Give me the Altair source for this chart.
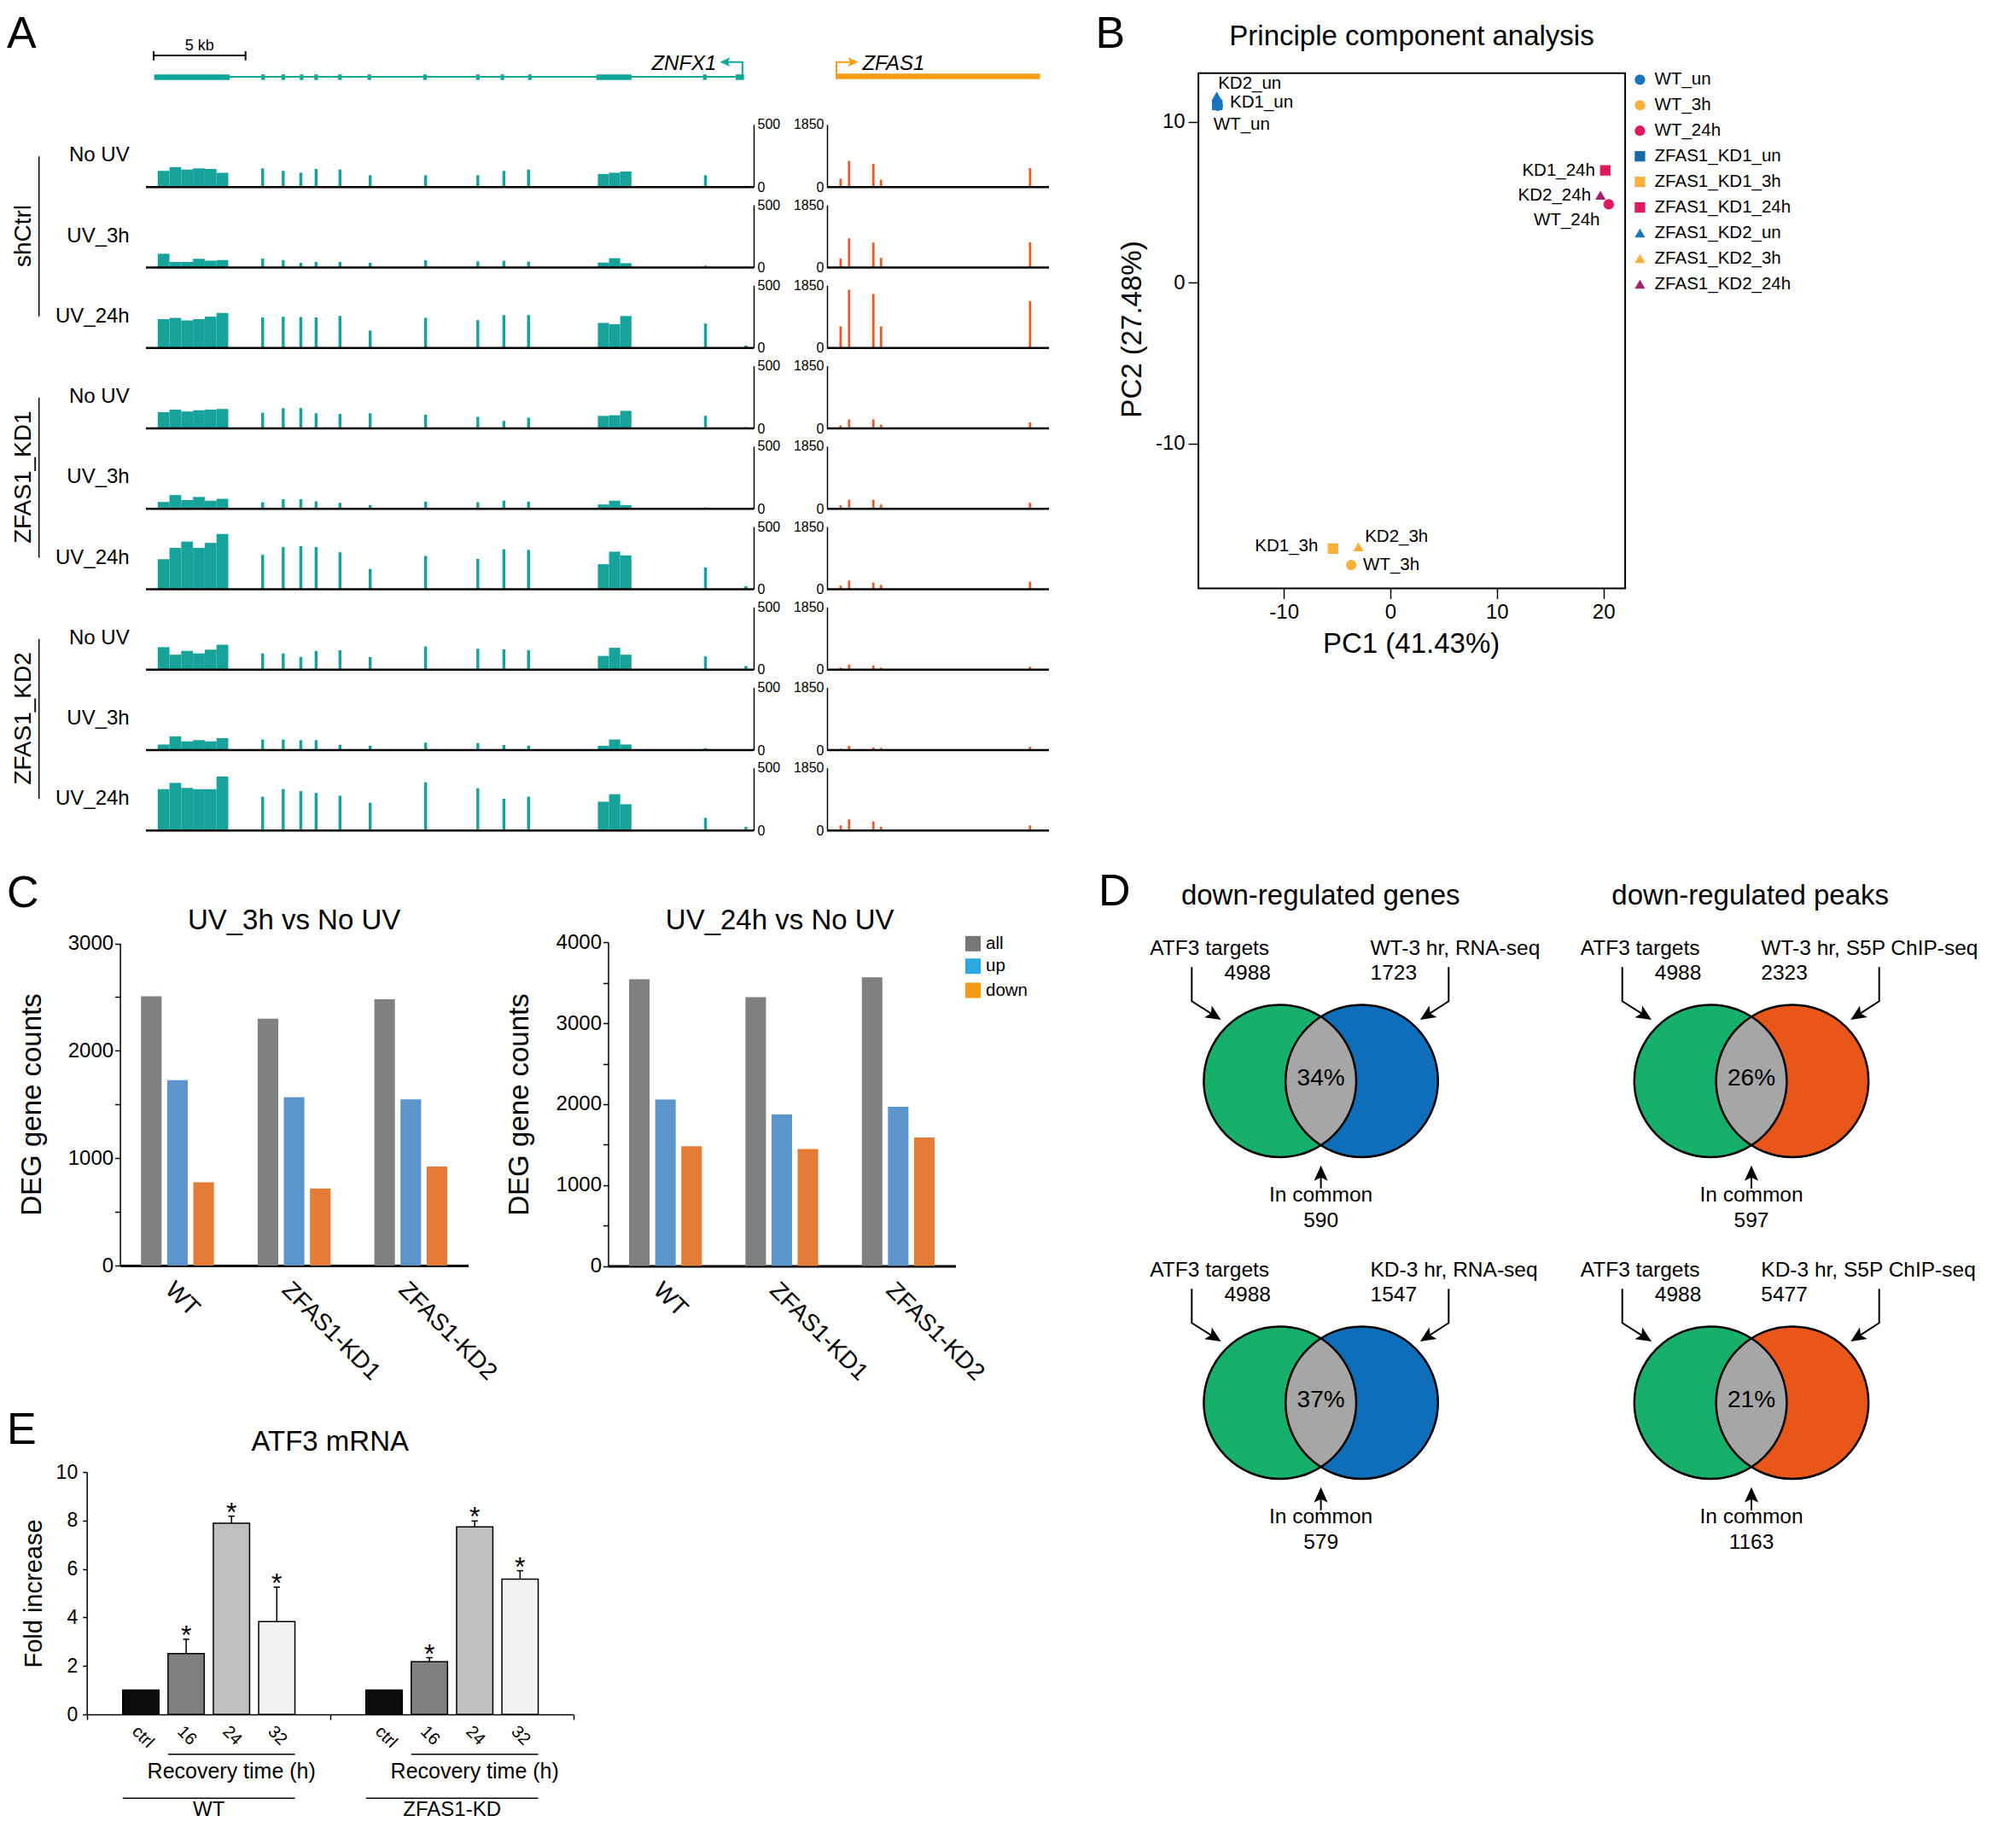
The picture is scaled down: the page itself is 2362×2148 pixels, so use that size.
import math
import altair as alt
import pandas as pd

W, H = 2346, 2132
M = 8
FONT = "Liberation Sans"
BLACK = "#000000"


def P(v):
    return round(v - M, 2)


def lin(domain, rng):
    return alt.Scale(domain=list(domain), range=list(rng), nice=False, zero=False)


# ======================= DATA =======================
# ---- A: coverage tracks ----
track_labels = ["No UV", "UV_3h", "UV_24h", "No UV", "UV_3h", "UV_24h", "No UV", "UV_3h", "UV_24h"]
track_groups = ["shCtrl", "ZFAS1_KD1", "ZFAS1_KD2"]
znfx1_axis_max = 500
zfas1_axis_max = 1850
znfx1_span_kb = [0.0, 33.07]
zfas1_span_kb = [0.0, 12.08]
scale_bar_kb = [0.42, 5.42]

znfx1_block1_edges = [0.64, 1.28, 1.92, 2.56, 3.20, 3.84, 4.48]
znfx1_block2_edges = [24.59, 25.20, 25.81, 26.42]
znfx1_exon_centers = [6.35, 7.47, 8.43, 9.26, 10.56, 12.20, 15.22, 18.06, 19.48, 20.82, 30.45, 32.65]

znfx1_block1_cov = [
    [130, 160, 140, 150, 145, 115],
    [110, 45, 45, 70, 55, 60],
    [230, 240, 220, 230, 250, 280],
    [130, 150, 135, 145, 150, 155],
    [55, 110, 70, 95, 65, 80],
    [240, 330, 380, 330, 370, 440],
    [180, 120, 150, 130, 160, 200],
    [45, 110, 70, 80, 70, 95],
    [330, 380, 340, 330, 330, 430],
]
znfx1_exon_cov = [
    [150, 130, 115, 145, 140, 95, 95, 95, 130, 140, 95, 10],
    [72, 60, 38, 45, 45, 38, 58, 49, 54, 47, 15, 5],
    [244, 249, 247, 244, 256, 139, 240, 222, 262, 262, 195, 20],
    [126, 162, 162, 121, 116, 121, 109, 92, 60, 85, 101, 10],
    [53, 77, 77, 60, 48, 31, 58, 53, 65, 58, 12, 5],
    [275, 336, 343, 336, 295, 162, 266, 242, 319, 314, 174, 25],
    [130, 130, 101, 150, 155, 101, 186, 167, 162, 155, 106, 30],
    [85, 85, 80, 80, 43, 36, 60, 56, 41, 36, 15, 5],
    [270, 331, 314, 300, 278, 222, 384, 338, 254, 270, 101, 30],
]
znfx1_block2_cov = [
    [105, 115, 125],
    [40, 75, 35],
    [200, 190, 255],
    [100, 105, 140],
    [35, 65, 30],
    [200, 300, 270],
    [110, 175, 120],
    [35, 85, 45],
    [230, 290, 210],
]
zfas1_peak_centers = [0.74, 1.20, 2.52, 2.94, 11.05]
zfas1_cov = [
    [249, 771, 689, 224, 564],
    [266, 863, 738, 282, 747],
    [639, 1718, 1593, 639, 1386],
    [89, 268, 268, 107, 179],
    [107, 268, 268, 125, 179],
    [107, 259, 197, 125, 223],
    [62, 152, 125, 62, 89],
    [45, 125, 80, 62, 98],
    [152, 330, 268, 107, 152],
]

# gene models
znfx1_gene_blocks = [[0.45, 4.56], [24.51, 26.42], [32.09, 32.54]]
znfx1_gene_exons = [6.38, 7.47, 8.47, 9.26, 10.56, 12.16, 15.18, 18.06, 19.40, 20.89, 30.41]
znfx1_gene_span = [0.45, 32.54]
znfx1_tss_path = [32.46, 32.46, 31.60]
znfx1_tss_tip = 31.23
zfas1_gene_span = [0.47, 11.59]
zfas1_tss_path = [0.51, 0.51, 1.30]
zfas1_tss_tip = 1.70

# ---- B: PCA ----
pca_samples = ["WT_un", "WT_3h", "WT_24h", "ZFAS1_KD1_un", "ZFAS1_KD1_3h", "ZFAS1_KD1_24h",
               "ZFAS1_KD2_un", "ZFAS1_KD2_3h", "ZFAS1_KD2_24h"]
pca_pc1 = [-16.2, -3.67, 20.5, -16.25, -5.39, 20.17, -16.3, -3.0, 19.72]
pca_pc2 = [11.0, -17.56, 4.87, 11.05, -16.54, 6.98, 11.6, -16.43, 5.44]
pca_colors = ["#1b75bc", "#fbb03b", "#e0195e", "#1a6ab0", "#fbb03b", "#e0195e", "#1b75bc", "#fbb03b", "#a3206a"]
pca_shapes = ["circle", "circle", "circle", "square", "square", "square", "triangle-up", "triangle-up", "triangle-up"]
pca_z = [2, 2, 2, 1, 1, 1, 3, 3, 3]
pca_labels = ["WT_un", "WT_3h", "WT_24h", "KD1_un", "KD1_3h", "KD1_24h", "KD2_un", "KD2_3h", "KD2_24h"]
pca_lab_x = [-16.6, -2.56, 19.67, -15.06, -6.78, 19.22, -16.17, -2.39, 18.83]
pca_lab_y = [9.85, -17.56, 3.87, 11.2, -16.4, 6.98, 12.4, -15.8, 5.44]
pca_lab_align = ["left", "left", "right", "left", "right", "right", "left", "left", "right"]
pca_x_domain = [-18.02, 22.04]
pca_y_domain = [-19.01, 13.03]

# ---- C: DEG counts ----
deg_groups = ["WT", "ZFAS1-KD1", "ZFAS1-KD2"]
deg_series = ["all", "up", "down"]
deg_3h = {"all": [2507, 2299, 2480], "up": [1726, 1568, 1548], "down": [774, 717, 922]}
deg_24h = {"all": [3545, 3322, 3568], "up": [2056, 1873, 1966], "down": [1480, 1445, 1588]}
deg_bar_colors = ["#808080", "#5b95cc", "#e57c36"]
deg_legend_colors = ["#767676", "#29a9e0", "#f39a12"]

# ---- D: Venn ----
venn_titles = ["down-regulated genes", "down-regulated peaks"]
venn_set_a = ["ATF3 targets", "ATF3 targets", "ATF3 targets", "ATF3 targets"]
venn_a_n = [4988, 4988, 4988, 4988]
venn_set_b = ["WT-3 hr, RNA-seq", "WT-3 hr, S5P ChIP-seq", "KD-3 hr, RNA-seq", "KD-3 hr, S5P ChIP-seq"]
venn_b_n = [1723, 2323, 1547, 5477]
venn_common = [590, 597, 579, 1163]
venn_pct = ["34%", "26%", "37%", "21%"]
venn_col = [0, 1, 0, 1]
venn_row = [0, 0, 1, 1]
venn_a_color = "#17b06a"
venn_b_color = ["#0f6eb9", "#e85719", "#0f6eb9", "#e85719"]
venn_lens_color = "#a6a6a6"

# ---- E: ATF3 mRNA ----
atf3_groups = ["WT", "ZFAS1-KD"]
atf3_times = ["ctrl", "16", "24", "32"]
atf3_wt = [1.0, 2.51, 7.89, 3.83]
atf3_wt_sd = [0.0, 0.59, 0.29, 1.42]
atf3_kd = [1.0, 2.17, 7.74, 5.58]
atf3_kd_sd = [0.0, 0.17, 0.24, 0.35]
atf3_fill = ["#0d0a0a", "#808080", "#bfbfbf", "#f2f2f2"]

# ======================= BUILD =======================
layers = []
TXT = []  # x, y, text, size, angle, align, baseline, style

# ---------------- Panel A ----------------
ROW0, PITCH, TH = 219.3, 94.25, 73.5
ZN_X = [P(171.0), P(883.0)]
ZF_X = [P(969.0), P(1229.0)]
TEAL = "#17a39c"
TEAL_G = "#0fa69a"
RED_COV = "#ea5a24"
ORANGE_G = "#f59d12"

track_axis = dict(ticks=False, tickSize=0, domainWidth=1.5, domainColor=BLACK, labelFontSize=16,
                  labelPadding=4, labelFlush=False, labelColor=BLACK, grid=False, labelFont=FONT, format="d")

for i in range(9):
    b = P(ROW0 + i * PITCH)
    rows = []
    e = znfx1_block1_edges
    for k, v in enumerate(znfx1_block1_cov[i]):
        rows.append((e[k], e[k + 1], v))
    for c, v in zip(znfx1_exon_centers, znfx1_exon_cov[i]):
        rows.append((c - 0.08, c + 0.08, v))
    e = znfx1_block2_edges
    for k, v in enumerate(znfx1_block2_cov[i]):
        rows.append((e[k], e[k + 1], v))
    zn = pd.DataFrame(rows, columns=["s", "e", "v"])
    layers.append(alt.Chart(zn).mark_rect(color=TEAL).encode(
        x=alt.X("s:Q", scale=lin(znfx1_span_kb, ZN_X), axis=None),
        x2="e:Q",
        y=alt.Y("v:Q", title=None, scale=lin([0, znfx1_axis_max], [b, b - TH]),
                axis=alt.Axis(orient="right", offset=ZN_X[1] - W, values=[0, znfx1_axis_max], **track_axis)),
        y2=alt.datum(0)))
    layers.append(alt.Chart(pd.DataFrame({"s": [znfx1_span_kb[0]], "e": [znfx1_span_kb[1]]}))
                  .mark_rule(color=BLACK, strokeWidth=2.5).encode(
        x=alt.X("s:Q", scale=lin(znfx1_span_kb, ZN_X), axis=None), x2="e:Q", y=alt.value(b)))

    zf = pd.DataFrame({"s": [c - 0.065 for c in zfas1_peak_centers],
                       "e": [c + 0.065 for c in zfas1_peak_centers],
                       "v": zfas1_cov[i]})
    layers.append(alt.Chart(zf).mark_rect(color=RED_COV).encode(
        x=alt.X("s:Q", scale=lin(zfas1_span_kb, ZF_X), axis=None),
        x2="e:Q",
        y=alt.Y("v:Q", title=None, scale=lin([0, zfas1_axis_max], [b, b - TH]),
                axis=alt.Axis(orient="left", offset=-ZF_X[0], values=[0, zfas1_axis_max], **track_axis)),
        y2=alt.datum(0)))
    layers.append(alt.Chart(pd.DataFrame({"s": [zfas1_span_kb[0]], "e": [zfas1_span_kb[1]]}))
                  .mark_rule(color=BLACK, strokeWidth=2.5).encode(
        x=alt.X("s:Q", scale=lin(zfas1_span_kb, ZF_X), axis=None), x2="e:Q", y=alt.value(b)))

    TXT.append((P(151.7), P(ROW0 + i * PITCH - 37), track_labels[i], 24, 0, "right", "middle", "normal"))

# group labels + brackets
grp_rows = []
for g, name in enumerate(track_groups):
    y_top = P(ROW0 + (3 * g) * PITCH - 36)
    y_bot = P(ROW0 + (3 * g + 2) * PITCH - 37)
    grp_rows.append({"x": P(45.7), "y1": y_top, "y2": y_bot})
    TXT.append((P(28.1), P(ROW0 + (3 * g + 1) * PITCH - 37), name, 28, 270, "center", "middle", "normal"))
layers.append(alt.Chart(pd.DataFrame(grp_rows)).mark_rule(color=BLACK, strokeWidth=1.5).encode(
    x=alt.X("x:Q", scale=None), y=alt.Y("y1:Q", scale=None), y2="y2:Q"))

# gene model ZNFX1
layers.append(alt.Chart(pd.DataFrame({"s": [znfx1_gene_span[0]], "e": [znfx1_gene_span[1]]}))
              .mark_rule(color=TEAL_G, strokeWidth=2).encode(
    x=alt.X("s:Q", scale=lin(znfx1_span_kb, ZN_X), axis=None), x2="e:Q", y=alt.value(P(90))))
gm = [(s, e) for s, e in znfx1_gene_blocks] + [(c - 0.1, c + 0.1) for c in znfx1_gene_exons]
layers.append(alt.Chart(pd.DataFrame(gm, columns=["s", "e"])).mark_rect(color=TEAL_G).encode(
    x=alt.X("s:Q", scale=lin(znfx1_span_kb, ZN_X), axis=None), x2="e:Q",
    y=alt.value(P(87.2)), y2=alt.value(P(93.7))))
layers.append(alt.Chart(pd.DataFrame({"kb": znfx1_tss_path, "py": [P(88), P(72.7), P(72.7)], "k": [0, 1, 2]}))
              .mark_line(color=TEAL_G, strokeWidth=2).encode(
    x=alt.X("kb:Q", scale=lin(znfx1_span_kb, ZN_X), axis=None), y=alt.Y("py:Q", scale=None), order="k:Q"))
ARROW = "M0,0L0.9,2L0,1.55L-0.9,2Z"
layers.append(alt.Chart(pd.DataFrame({"kb": [znfx1_tss_tip]}))
              .mark_point(shape=ARROW, filled=True, size=144, opacity=1, color=TEAL_G, angle=270).encode(
    x=alt.X("kb:Q", scale=lin(znfx1_span_kb, ZN_X), axis=None), y=alt.value(P(72.7))))

# gene model ZFAS1
layers.append(alt.Chart(pd.DataFrame({"s": [zfas1_gene_span[0]], "e": [zfas1_gene_span[1]]}))
              .mark_rect(color=ORANGE_G).encode(
    x=alt.X("s:Q", scale=lin(zfas1_span_kb, ZF_X), axis=None), x2="e:Q",
    y=alt.value(P(86.2)), y2=alt.value(P(92.8))))
layers.append(alt.Chart(pd.DataFrame({"kb": zfas1_tss_path, "py": [P(88), P(72.7), P(72.7)], "k": [0, 1, 2]}))
              .mark_line(color=ORANGE_G, strokeWidth=2).encode(
    x=alt.X("kb:Q", scale=lin(zfas1_span_kb, ZF_X), axis=None), y=alt.Y("py:Q", scale=None), order="k:Q"))
layers.append(alt.Chart(pd.DataFrame({"kb": [zfas1_tss_tip]}))
              .mark_point(shape=ARROW, filled=True, size=144, opacity=1, color=ORANGE_G, angle=90).encode(
    x=alt.X("kb:Q", scale=lin(zfas1_span_kb, ZF_X), axis=None), y=alt.value(P(72.7))))

# scale bar
layers.append(alt.Chart(pd.DataFrame({"s": [scale_bar_kb[0]], "e": [scale_bar_kb[1]]}))
              .mark_rule(color=BLACK, strokeWidth=2).encode(
    x=alt.X("s:Q", scale=lin(znfx1_span_kb, ZN_X), axis=None), x2="e:Q", y=alt.value(P(65))))
layers.append(alt.Chart(pd.DataFrame({"kb": scale_bar_kb}))
              .mark_rule(color=BLACK, strokeWidth=2).encode(
    x=alt.X("kb:Q", scale=lin(znfx1_span_kb, ZN_X), axis=None), y=alt.value(P(60)), y2=alt.value(P(70.7))))


def zn_px(kb):
    return ZN_X[0] + kb * (ZN_X[1] - ZN_X[0]) / (znfx1_span_kb[1] - znfx1_span_kb[0])


TXT.append((round(zn_px(sum(scale_bar_kb) / 2), 2), P(59.3), "5 kb", 18, 0, "center", "alphabetic", "normal"))
TXT.append((P(839.4), P(81.7), "ZNFX1", 24, 0, "right", "alphabetic", "italic"))
TXT.append((P(1010.4), P(81.7), "ZFAS1", 24, 0, "left", "alphabetic", "italic"))

# panel letters
TXT.append((0, 48, "A", 52, 0, "left", "alphabetic", "normal"))
TXT.append((P(1283.4), 48, "B", 52, 0, "left", "alphabetic", "normal"))
TXT.append((0, P(1063), "C", 52, 0, "left", "alphabetic", "normal"))
TXT.append((P(1286.9), P(1061), "D", 52, 0, "left", "alphabetic", "normal"))
TXT.append((0, P(1691.7), "E", 52, 0, "left", "alphabetic", "normal"))

# ---------------- Panel B ----------------
PX = [P(1404.1), P(1904.1)]
PY = [P(689.4), P(85.7)]
frame = pd.DataFrame({"x0": [pca_x_domain[0]], "x1": [pca_x_domain[1]],
                      "y0": [pca_y_domain[0]], "y1": [pca_y_domain[1]]})
pca_axis = dict(tickSize=12, tickWidth=1.5, domain=False, labelFontSize=24, labelPadding=4,
                labelFlush=False, grid=False, labelColor=BLACK, tickColor=BLACK, labelFont=FONT,
                labelExpr="'' + datum.value")
layers.append(alt.Chart(frame).mark_rect(fillOpacity=0, stroke=BLACK, strokeWidth=2).encode(
    x=alt.X("x0:Q", title=None, scale=lin(pca_x_domain, PX),
            axis=alt.Axis(orient="bottom", offset=PY[0] - H, values=[-10, 0, 10, 20], **pca_axis)),
    x2="x1:Q",
    y=alt.Y("y0:Q", title=None, scale=lin(pca_y_domain, PY),
            axis=alt.Axis(orient="left", offset=-PX[0], values=[-10, 0, 10], **pca_axis)),
    y2="y1:Q"))
pca_df = pd.DataFrame({"sample": pca_samples, "pc1": pca_pc1, "pc2": pca_pc2, "z": pca_z,
                       "label": pca_labels, "lx": pca_lab_x, "ly": pca_lab_y, "align": pca_lab_align})
pca_color = alt.Color("sample:N", scale=alt.Scale(domain=pca_samples, range=pca_colors), legend=None)
pca_shape = alt.Shape("sample:N", scale=alt.Scale(domain=pca_samples, range=pca_shapes), legend=None)
layers.append(alt.Chart(pca_df).mark_point(filled=True, size=150, opacity=1).encode(
    x=alt.X("pc1:Q", scale=lin(pca_x_domain, PX), axis=None),
    y=alt.Y("pc2:Q", scale=lin(pca_y_domain, PY), axis=None),
    color=pca_color, shape=pca_shape, order="z:Q"))
for al in ["left", "right"]:
    layers.append(alt.Chart(pca_df[pca_df["align"] == al]).mark_text(
        align=al, baseline="middle", font=FONT, fontSize=20.5, color=BLACK).encode(
        x=alt.X("lx:Q", scale=lin(pca_x_domain, PX), axis=None),
        y=alt.Y("ly:Q", scale=lin(pca_y_domain, PY), axis=None), text="label:N"))
# legend (manual)
LEG_Y0, LEG_DY = 93.3, 29.96
leg = pd.DataFrame({"sample": pca_samples, "x": [P(1921.4)] * 9,
                    "y": [P(LEG_Y0 + LEG_DY * k) for k in range(9)]})
layers.append(alt.Chart(leg).mark_point(filled=True, size=150, opacity=1).encode(
    x=alt.X("x:Q", scale=None), y=alt.Y("y:Q", scale=None),
    color=alt.Color("sample:N", scale=alt.Scale(domain=pca_samples, range=pca_colors), legend=None),
    shape=alt.Shape("sample:N", scale=alt.Scale(domain=pca_samples, range=pca_shapes), legend=None)))
for k, s in enumerate(pca_samples):
    TXT.append((P(1938.6), P(LEG_Y0 + LEG_DY * k), s, 20.5, 0, "left", "middle", "normal"))
TXT.append((P(1654), P(43.3), "Principle component analysis", 33, 0, "center", "middle", "normal"))
TXT.append((P(1653.6), P(755), "PC1 (41.43%)", 33, 0, "center", "middle", "normal"))
TXT.append((P(1326.5), P(386), "PC2 (27.48%)", 33, 270, "center", "middle", "normal"))

# ---------------- Panel C ----------------
c_panels = [
    ("UV_3h vs No UV", deg_3h, 3000, [P(140.6), P(548.6)], [P(1483), P(1105.5)], P(344.6), P(38)),
    ("UV_24h vs No UV", deg_24h, 4000, [P(712.5), P(1119.5)], [P(1483.5), P(1104.3)], P(913.7), P(609)),
]
for title, vals, ymax, xr, yr, tx, ytx in c_panels:
    rows = []
    for si, s in enumerate(deg_series):
        for gi, g in enumerate(deg_groups):
            rows.append({"group": g, "series": s, "value": vals[s][gi], "hex": deg_bar_colors[si]})
    layers.append(alt.Chart(pd.DataFrame(rows)).mark_bar().encode(
        x=alt.X("group:N", title=None,
                scale=alt.Scale(domain=deg_groups, range=xr, paddingInner=0.375, paddingOuter=0.18),
                axis=alt.Axis(orient="bottom", offset=yr[0] - H, labelAngle=45, labelAlign="left",
                              labelBaseline="top", labelFontSize=28, ticks=False, tickSize=0,
                              domainWidth=3, labelPadding=14, grid=False, labelFont=FONT, labelColor=BLACK)),
        xOffset=alt.XOffset("series:N", scale=alt.Scale(domain=deg_series, paddingInner=0.213, paddingOuter=0.0)),
        y=alt.Y("value:Q", title=None, scale=lin([0, ymax], yr),
                axis=alt.Axis(orient="left", offset=-xr[0], values=list(range(0, ymax + 1, 500)), format="d",
                              labelExpr="datum.value % 1000 === 0 ? datum.label : ''",
                              tickSize=6, tickWidth=1.5, domainWidth=1.5, labelFontSize=24,
                              labelPadding=2, grid=False, labelFont=FONT, labelColor=BLACK)),
        color=alt.Color("hex:N", scale=None)))
    TXT.append((tx, P(1078.9), title, 33, 0, "center", "middle", "normal"))
    TXT.append((ytx, P(1294.5), "DEG gene counts", 33, 270, "center", "middle", "normal"))
CLEG_Y = [1105.8, 1132.2, 1160.5]
cleg = pd.DataFrame({"series": deg_series, "hex": deg_legend_colors,
                     "x": [P(1140)] * 3, "y": [P(v) for v in CLEG_Y]})
layers.append(alt.Chart(cleg).mark_square(size=324, opacity=1).encode(
    x=alt.X("x:Q", scale=None), y=alt.Y("y:Q", scale=None), color=alt.Color("hex:N", scale=None)))
for s, yy in zip(deg_series, CLEG_Y):
    TXT.append((P(1155), P(yy), s, 20.5, 0, "left", "middle", "normal"))

# ---------------- Panel D ----------------
VX0, VDX, VY0, VDY = 1547.6, 504.4, 1266.7, 377.0
CR, CHALF = 89.3, 47.9
CSIZE = (2 * CR) ** 2
hh = round(math.sqrt(1 - (CHALF / CR) ** 2), 4)
LENS = f"M0,{-hh}A1,1,0,0,1,0,{hh}A1,1,0,0,1,0,{-hh}Z"
fills, lens, lines, heads = [], [], [], []
for k in range(4):
    cx = P(VX0 + VDX * venn_col[k])
    cy = P(VY0 + VDY * venn_row[k])
    fills.append({"x": cx - CHALF, "y": cy, "c": venn_a_color})
    fills.append({"x": cx + CHALF, "y": cy, "c": venn_b_color[k]})
    lens.append({"x": cx, "y": cy})
    arrows = [([(-151.3, -133.4), (-151.3, -93.4)], (-117, -71.7)),
              ([(149.7, -133.4), (149.7, -93.4)], (116.3, -71.7)),
              ([(0, 126)], (0, 99))]
    for a, (pts, tip) in enumerate(arrows):
        lx, ly = pts[-1]
        dx, dy = tip[0] - lx, tip[1] - ly
        n = math.hypot(dx, dy)
        ux, uy = dx / n, dy / n
        path = pts + [(tip[0] - 12 * ux, tip[1] - 12 * uy)]
        for j, (px_, py_) in enumerate(path):
            lines.append({"id": f"{k}-{a}", "j": j, "x": cx + px_, "y": cy + py_})
        ang = (math.degrees(math.atan2(ux, -uy)) + 360) % 360
        heads.append({"x": cx + tip[0], "y": cy + tip[1], "ang": round(ang, 1)})
    TXT.append((cx - 200.3, cy - 155, venn_set_a[k], 24.5, 0, "left", "middle", "normal"))
    TXT.append((cx - 58.7, cy - 125.9, str(venn_a_n[k]), 24.5, 0, "right", "middle", "normal"))
    bx = cx + (57.9 if venn_col[k] == 0 else 11.3)
    TXT.append((bx, cy - 155, venn_set_b[k], 24.5, 0, "left", "middle", "normal"))
    TXT.append((bx, cy - 125.9, str(venn_b_n[k]), 24.5, 0, "left", "middle", "normal"))
    TXT.append((cx, cy - 3, venn_pct[k], 28, 0, "center", "middle", "normal"))
    TXT.append((cx, cy + 134.5, "In common", 24.5, 0, "center", "middle", "normal"))
    TXT.append((cx, cy + 164.5, str(venn_common[k]), 24.5, 0, "center", "middle", "normal"))
for c, t in enumerate(venn_titles):
    TXT.append((P(1547.2 + 503.5 * c), P(1050.2), t, 33, 0, "center", "middle", "normal"))

fdf = pd.DataFrame(fills)
layers.append(alt.Chart(fdf).mark_point(shape="circle", filled=True, size=CSIZE, opacity=1, strokeWidth=0).encode(
    x=alt.X("x:Q", scale=None), y=alt.Y("y:Q", scale=None), color=alt.Color("c:N", scale=None)))
layers.append(alt.Chart(pd.DataFrame(lens)).mark_point(shape=LENS, filled=True, size=CSIZE, opacity=1,
                                                        color=venn_lens_color, strokeWidth=0).encode(
    x=alt.X("x:Q", scale=None), y=alt.Y("y:Q", scale=None)))
layers.append(alt.Chart(fdf).mark_point(shape="circle", filled=False, size=CSIZE, opacity=1,
                                        color=BLACK, strokeWidth=2.5).encode(
    x=alt.X("x:Q", scale=None), y=alt.Y("y:Q", scale=None)))
layers.append(alt.Chart(pd.DataFrame(lines)).mark_line(color=BLACK, strokeWidth=2).encode(
    x=alt.X("x:Q", scale=None), y=alt.Y("y:Q", scale=None), detail="id:N", order="j:Q"))
layers.append(alt.Chart(pd.DataFrame(heads)).mark_point(shape=ARROW, filled=True, size=324, opacity=1,
                                                         color=BLACK, strokeWidth=0).encode(
    x=alt.X("x:Q", scale=None), y=alt.Y("y:Q", scale=None), angle=alt.Angle("ang:Q", scale=None)))

# ---------------- Panel E ----------------
E_GROUP, E_FIRST, E_HALF = 5.367, 1.192, 0.40
EX = [P(101.7), P(671.7)]
EY = [P(2009), P(1725)]
e_xdom = [0, 2 * E_GROUP]
erows = []
for g, (vals, sds) in enumerate([(atf3_wt, atf3_wt_sd), (atf3_kd, atf3_kd_sd)]):
    for t in range(4):
        c = g * E_GROUP + E_FIRST + t
        erows.append({"grp": atf3_groups[g], "time": atf3_times[t], "c": c, "x0": c - E_HALF, "x1": c + E_HALF,
                      "val": vals[t], "top": vals[t] + sds[t], "cl": c - 0.07, "cr": c + 0.07,
                      "fill": atf3_fill[t], "sd": sds[t]})
edf = pd.DataFrame(erows)
layers.append(alt.Chart(edf).mark_rect(stroke=BLACK, strokeWidth=1.5).encode(
    x=alt.X("x0:Q", title=None, scale=lin(e_xdom, EX),
            axis=alt.Axis(orient="bottom", offset=EY[0] - H, values=[0, E_GROUP, 2 * E_GROUP], labels=False,
                          tickSize=6, tickWidth=1.5, domainWidth=1.5, grid=False)),
    x2="x1:Q",
    y=alt.Y("val:Q", title=None, scale=lin([0, 10], EY),
            axis=alt.Axis(orient="left", offset=-EX[0], values=[0, 2, 4, 6, 8, 10], tickSize=5, tickWidth=1.5,
                          domainWidth=1.5, labelFontSize=23, labelPadding=6, grid=False,
                          labelFont=FONT, labelColor=BLACK)),
    y2=alt.datum(0),
    fill=alt.Fill("fill:N", scale=None)))
esd = edf[edf["sd"] > 0]
layers.append(alt.Chart(esd).mark_rule(color=BLACK, strokeWidth=1.5).encode(
    x=alt.X("c:Q", scale=lin(e_xdom, EX), axis=None),
    y=alt.Y("val:Q", scale=lin([0, 10], EY), axis=None), y2="top:Q"))
layers.append(alt.Chart(esd).mark_rule(color=BLACK, strokeWidth=1.5).encode(
    x=alt.X("cl:Q", scale=lin(e_xdom, EX), axis=None), x2="cr:Q",
    y=alt.Y("top:Q", scale=lin([0, 10], EY), axis=None)))
layers.append(alt.Chart(esd).mark_text(text="*", font=FONT, fontSize=32, baseline="alphabetic", dy=6,
                                       color=BLACK).encode(
    x=alt.X("c:Q", scale=lin(e_xdom, EX), axis=None),
    y=alt.Y("top:Q", scale=lin([0, 10], EY), axis=None)))
layers.append(alt.Chart(edf).mark_text(font=FONT, fontSize=20, angle=45, align="left", baseline="top",
                                       color=BLACK).encode(
    x=alt.X("c:Q", scale=lin(e_xdom, EX), axis=None), y=alt.value(EY[0] + 10), text="time:N"))
deco = []
for g in range(2):
    base = g * E_GROUP + E_FIRST
    deco.append({"s": base + 1 - E_HALF, "e": base + 3 + E_HALF, "y": P(2055.7)})
    deco.append({"s": base - E_HALF, "e": base + 3 + E_HALF, "y": P(2107.3)})
layers.append(alt.Chart(pd.DataFrame(deco)).mark_rule(color=BLACK, strokeWidth=1.5).encode(
    x=alt.X("s:Q", scale=lin(e_xdom, EX), axis=None), x2="e:Q", y=alt.Y("y:Q", scale=None)))
etext = []
for g in range(2):
    base = g * E_GROUP + E_FIRST
    etext.append({"x": base + 2, "y": P(2076), "t": "Recovery time (h)", "fs": 25})
    etext.append({"x": base + 1.5, "y": P(2121), "t": atf3_groups[g], "fs": 24})
layers.append(alt.Chart(pd.DataFrame(etext)).mark_text(font=FONT, baseline="middle", align="center",
                                                       color=BLACK).encode(
    x=alt.X("x:Q", scale=lin(e_xdom, EX), axis=None), y=alt.Y("y:Q", scale=None), text="t:N",
    size=alt.Size("fs:Q", scale=None, legend=None)))
TXT.append((round((EX[0] + EX[1]) / 2, 2), P(1690), "ATF3 mRNA", 33, 0, "center", "middle", "normal"))
TXT.append((P(40), P(1867.5), "Fold increase", 29, 270, "center", "middle", "normal"))

# ---------------- text layers ----------------
tdf = pd.DataFrame(TXT, columns=["x", "y", "t", "fs", "ang", "align", "baseline", "style"])
for (al, bl, st), g in tdf.groupby(["align", "baseline", "style"]):
    layers.append(alt.Chart(g[["x", "y", "t", "fs", "ang"]]).mark_text(
        align=al, baseline=bl, font=FONT, fontStyle=st, color=BLACK).encode(
        x=alt.X("x:Q", scale=None), y=alt.Y("y:Q", scale=None), text="t:N",
        size=alt.Size("fs:Q", scale=None, legend=None), angle=alt.Angle("ang:Q", scale=None)))

chart = alt.layer(*layers).resolve_scale(
    x="independent", y="independent", color="independent", shape="independent",
    xOffset="independent", size="independent", angle="independent", fill="independent"
).resolve_axis(x="independent", y="independent").properties(
    width=W, height=H, autosize=alt.AutoSizeParams(type="none"), padding=0, background="white"
).configure_axis(
    grid=False, labelFont=FONT, titleFont=FONT, labelColor=BLACK, tickColor=BLACK, domainColor=BLACK
).configure_view(strokeWidth=0)

chart.save("out.html", embed_options={"renderer": "svg", "actions": False})
